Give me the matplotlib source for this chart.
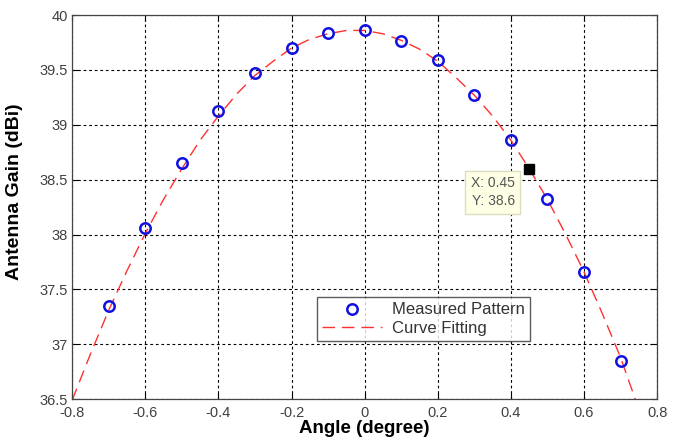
import matplotlib
matplotlib.use("Agg")
import matplotlib.pyplot as plt

# measured pattern
angle = [-0.7, -0.6, -0.5, -0.4, -0.3, -0.2, -0.1, 0.0,
         0.1, 0.2, 0.3, 0.4, 0.5, 0.6, 0.7]
gain = [37.35, 38.06, 38.65, 39.13, 39.47, 39.70, 39.84, 39.86,
        39.76, 39.59, 39.27, 38.86, 38.32, 37.66, 36.85]

# fitted curve
fit_angle = [-0.80, -0.75, -0.70, -0.65, -0.60, -0.55, -0.50, -0.45,
             -0.40, -0.35, -0.30, -0.25, -0.20, -0.15, -0.10, -0.05,
             0.00, 0.05, 0.10, 0.15, 0.20, 0.25, 0.30, 0.35,
             0.40, 0.45, 0.50, 0.55, 0.60, 0.65, 0.70, 0.74]
fit_gain = [36.49, 36.91, 37.31, 37.67, 38.01, 38.32, 38.60, 38.86,
            39.08, 39.28, 39.45, 39.58, 39.70, 39.78, 39.83, 39.86,
            39.86, 39.83, 39.77, 39.69, 39.58, 39.43, 39.27, 39.08,
            38.86, 38.60, 38.32, 38.00, 37.66, 37.28, 36.88, 36.50]

tip_x, tip_y = 0.45, 38.6

plt.rcParams['font.family'] = ['Liberation Sans', 'DejaVu Sans']

fig = plt.figure(figsize=(6.74, 4.44), dpi=100)
ax = fig.add_axes([0.107, 0.101, 0.868, 0.865])

ax.plot(angle, gain, 'o', color='#1010e0', mfc='none', ms=7.5, mew=1.8,
        label='Measured Pattern', zorder=3)
ax.plot(fit_angle, fit_gain, color='#ff3030', lw=1.0, dashes=(9, 5),
        label='Curve Fitting', zorder=2)

ax.set_xlim(-0.8, 0.8)
ax.set_ylim(36.5, 40)
ax.set_xticks([-0.8, -0.6, -0.4, -0.2, 0, 0.2, 0.4, 0.6, 0.8])
ax.set_xticklabels(['-0.8', '-0.6', '-0.4', '-0.2', '0', '0.2', '0.4', '0.6', '0.8'])
ax.set_yticks([36.5, 37, 37.5, 38, 38.5, 39, 39.5, 40])
ax.set_yticklabels(['36.5', '37', '37.5', '38', '38.5', '39', '39.5', '40'])
ax.tick_params(direction='in', length=4, labelsize=10.5, labelcolor='#404040',
               top=True, right=True, pad=3)
ax.tick_params(axis='x', pad=5)
ax.grid(True, color='black', linestyle=(0, (2.5, 2.5)), linewidth=0.8)
for s in ax.spines.values():
    s.set_linewidth(0.9)
    s.set_color('#444444')

ax.set_xlabel('Angle (degree)', fontsize=13.5, fontweight='bold', labelpad=0)
ax.set_ylabel('Antenna Gain (dBi)', fontsize=14, fontweight='bold')
ax.yaxis.set_label_coords(-0.084, 0.54)

leg = ax.legend(loc='lower left', bbox_to_anchor=(0.419, 0.152), fontsize=12,
                frameon=True, fancybox=False, edgecolor='#333333',
                handlelength=3.6, handletextpad=0.6, borderpad=0.3,
                labelspacing=0.2, borderaxespad=0)
leg.get_frame().set_linewidth(1.0)
for t in leg.get_texts():
    t.set_color('#333333')

# data tip
ax.plot([tip_x], [tip_y], 's', color='black', ms=7, zorder=4)
ax.text(0.411, 38.53, 'X: %.2f\nY: %.1f' % (tip_x, tip_y), fontsize=10,
        color='#555555', ha='right', va='top', linespacing=1.35,
        bbox=dict(boxstyle='square,pad=0.4', fc='#ffffe6', ec='#dcdcc0', lw=1))

fig.savefig('out.png', dpi=100)
